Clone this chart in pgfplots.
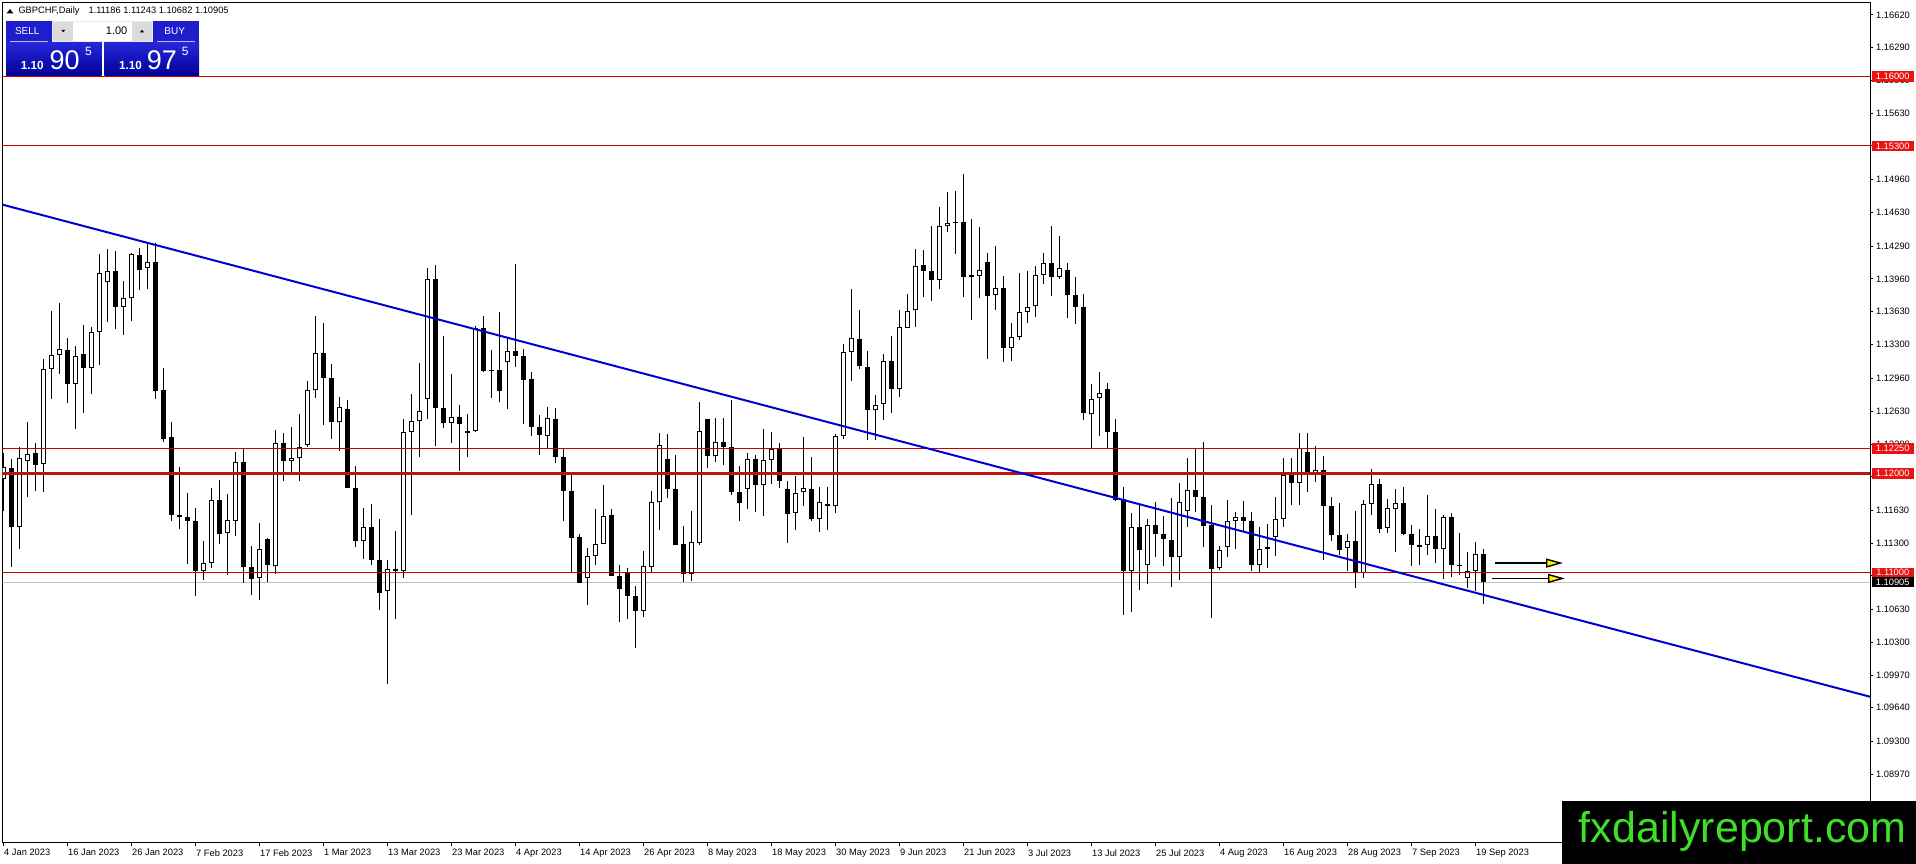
\documentclass[border=0pt]{standalone}
\usepackage{fontspec}
\setmainfont{Liberation Sans}
\usepackage{pgfplots}
\usepackage{pgfplotstable}
\pgfplotsset{compat=1.18}
\usetikzlibrary{arrows.meta}
\definecolor{lnred}{RGB}{205,0,0}
\definecolor{lnred2}{RGB}{190,20,20}
\definecolor{lblred}{RGB}{232,20,20}
\definecolor{trendblue}{RGB}{0,0,210}
\definecolor{bidgray}{RGB}{192,192,192}
\definecolor{btnblue}{RGB}{30,30,205}
\definecolor{boxtop}{RGB}{40,40,220}
\definecolor{boxbot}{RGB}{0,0,150}
\definecolor{wmgreen}{RGB}{62,222,42}
\newcommand\tlfont{\fontsize{9.3}{10}\selectfont}

\pgfplotstableread{
i O H L C
0 1.11941 1.12210 1.11622 1.12069
1 1.12059 1.12149 1.11061 1.11464
2 1.11464 1.12270 1.11242 1.12159
3 1.12129 1.12522 1.11766 1.12200
4 1.12210 1.12310 1.11823 1.12089
5 1.12099 1.13150 1.11817 1.13056
6 1.13056 1.13634 1.12754 1.13198
7 1.13198 1.13722 1.13006 1.13258
8 1.13248 1.13369 1.12714 1.12905
9 1.12905 1.13288 1.12452 1.13187
10 1.13208 1.13500 1.12613 1.13066
11 1.13066 1.13480 1.12804 1.13429
12 1.13429 1.14212 1.13097 1.14024
13 1.13933 1.14266 1.13530 1.14044
14 1.14044 1.14246 1.13460 1.13681
15 1.13681 1.13943 1.13399 1.13772
16 1.13772 1.14226 1.13540 1.14216
17 1.14206 1.14276 1.13853 1.14054
18 1.14075 1.14327 1.13863 1.14135
19 1.14135 1.14327 1.12754 1.12835
20 1.12845 1.13066 1.12321 1.12351
21 1.12371 1.12522 1.11524 1.11585
22 1.11585 1.12069 1.11444 1.11565
23 1.11565 1.11806 1.11091 1.11524
24 1.11524 1.11655 1.10765 1.11020
25 1.11020 1.11323 1.10930 1.11101
26 1.11101 1.11857 1.11051 1.11736
27 1.11736 1.11938 1.11292 1.11393
28 1.11403 1.11796 1.10980 1.11534
29 1.11524 1.12220 1.11370 1.12119
30 1.12119 1.12250 1.10899 1.11061
31 1.11057 1.11272 1.10772 1.10936
32 1.10946 1.11501 1.10721 1.11239
33 1.11339 1.11350 1.10906 1.11077
34 1.11067 1.12438 1.10987 1.12307
35 1.12307 1.12408 1.11924 1.12126
36 1.12126 1.12468 1.11995 1.12156
37 1.12156 1.12599 1.11924 1.12267
38 1.12287 1.12932 1.12267 1.12841
39 1.12841 1.13587 1.12761 1.13214
40 1.13214 1.13517 1.12489 1.12962
41 1.12962 1.13103 1.12347 1.12519
42 1.12519 1.12771 1.12226 1.12670
43 1.12650 1.12741 1.11854 1.11854
44 1.11854 1.12075 1.11259 1.11319
45 1.11319 1.11652 1.11138 1.11460
46 1.11460 1.11692 1.11077 1.11128
47 1.11128 1.11541 1.10624 1.10795
48 1.10815 1.11128 1.09878 1.11037
49 1.11037 1.11420 1.10533 1.11017
50 1.11017 1.12549 1.10946 1.12418
51 1.12418 1.12801 1.11578 1.12529
52 1.12529 1.13114 1.12166 1.12630
53 1.12751 1.14071 1.12549 1.13960
54 1.13960 1.14101 1.12277 1.12660
55 1.12660 1.13386 1.12458 1.12509
56 1.12509 1.13003 1.12307 1.12569
57 1.12569 1.12690 1.12025 1.12499
58 1.12408 1.12599 1.12166 1.12428
59 1.12428 1.13486 1.12418 1.13466
60 1.13466 1.13587 1.13023 1.13033
61 1.13043 1.13245 1.12761 1.13033
62 1.13046 1.13624 1.12717 1.12828
63 1.13124 1.13376 1.12650 1.13235
64 1.13235 1.14111 1.13073 1.13184
65 1.13184 1.13255 1.12499 1.12942
66 1.12952 1.13023 1.12378 1.12468
67 1.12468 1.12589 1.12186 1.12388
68 1.12378 1.12670 1.12257 1.12559
69 1.12549 1.12660 1.12106 1.12166
70 1.12166 1.12247 1.11521 1.11823
71 1.11823 1.12015 1.10997 1.11350
72 1.11360 1.11390 1.10896 1.10896
73 1.10946 1.11249 1.10674 1.11168
74 1.11168 1.11642 1.11077 1.11289
75 1.11289 1.11884 1.11289 1.11571
76 1.11581 1.11642 1.10966 1.10966
77 1.10966 1.11077 1.10503 1.10835
78 1.10997 1.11047 1.10533 1.10765
79 1.10765 1.10866 1.10241 1.10614
80 1.10614 1.11219 1.10553 1.11067
81 1.11057 1.11823 1.10997 1.11712
82 1.11712 1.12408 1.11430 1.12287
83 1.12146 1.12398 1.11753 1.11843
84 1.11843 1.12186 1.11279 1.11279
85 1.11289 1.11470 1.10906 1.10987
86 1.10987 1.11622 1.10916 1.11309
87 1.11299 1.12720 1.11279 1.12428
88 1.12549 1.12549 1.12055 1.12176
89 1.12176 1.12559 1.12116 1.12317
90 1.12317 1.12559 1.12085 1.12267
91 1.12267 1.12741 1.11783 1.11813
92 1.11813 1.12075 1.11521 1.11702
93 1.11847 1.12210 1.11645 1.12149
94 1.12149 1.12190 1.11615 1.11887
95 1.11887 1.12452 1.11575 1.12139
96 1.12139 1.12421 1.11897 1.12250
97 1.12250 1.12310 1.11857 1.11927
98 1.11847 1.11927 1.11302 1.11595
99 1.11605 1.11978 1.11434 1.11807
100 1.11817 1.12371 1.11676 1.11857
101 1.11847 1.12169 1.11524 1.11544
102 1.11544 1.11867 1.11413 1.11716
103 1.11696 1.11867 1.11434 1.11676
104 1.11676 1.12401 1.11605 1.12381
105 1.12381 1.13308 1.12351 1.13228
106 1.13228 1.13863 1.12936 1.13369
107 1.13359 1.13651 1.13056 1.13087
108 1.13077 1.13238 1.12341 1.12643
109 1.12643 1.12794 1.12341 1.12694
110 1.12704 1.13208 1.12542 1.13137
111 1.13137 1.13389 1.12613 1.12855
112 1.12855 1.13651 1.12774 1.13480
113 1.13470 1.13812 1.13470 1.13641
114 1.13651 1.14266 1.13480 1.14095
115 1.14105 1.14256 1.13782 1.14044
116 1.14044 1.14498 1.13742 1.13954
117 1.13954 1.14689 1.13863 1.14498
118 1.14498 1.14841 1.14437 1.14528
119 1.14538 1.14851 1.14216 1.14528
120 1.14538 1.15022 1.13782 1.13984
121 1.13984 1.14568 1.13550 1.14004
122 1.13994 1.14488 1.13772 1.14054
123 1.14135 1.14226 1.13157 1.13792
124 1.13799 1.14293 1.13648 1.13870
125 1.13870 1.13990 1.13124 1.13265
126 1.13265 1.13517 1.13134 1.13376
127 1.13376 1.14021 1.13345 1.13628
128 1.13628 1.14041 1.13517 1.13678
129 1.13688 1.14091 1.13577 1.14001
130 1.14001 1.14222 1.13910 1.14122
131 1.14122 1.14495 1.13789 1.13980
132 1.13980 1.14394 1.13960 1.14071
133 1.14051 1.14122 1.13567 1.13799
134 1.13799 1.13980 1.13507 1.13678
135 1.13678 1.13809 1.12539 1.12610
136 1.12599 1.12902 1.12257 1.12751
137 1.12761 1.13023 1.12378 1.12811
138 1.12851 1.12912 1.12247 1.12418
139 1.12418 1.12549 1.11722 1.11733
140 1.11743 1.11864 1.10573 1.11017
141 1.11017 1.11602 1.10604 1.11460
142 1.11460 1.11692 1.10825 1.11229
143 1.11077 1.11541 1.10886 1.11481
144 1.11481 1.11712 1.11158 1.11390
145 1.11390 1.11571 1.11067 1.11339
146 1.11329 1.11753 1.10856 1.11158
147 1.11158 1.11904 1.10926 1.11712
148 1.11622 1.12156 1.11460 1.11833
149 1.11833 1.12257 1.11612 1.11763
150 1.11763 1.12317 1.11259 1.11470
151 1.11481 1.11682 1.10543 1.11037
152 1.11047 1.11266 1.11030 1.11229
153 1.11259 1.11733 1.11158 1.11521
154 1.11521 1.11612 1.11239 1.11561
155 1.11565 1.11726 1.11423 1.11524
156 1.11524 1.11615 1.11020 1.11081
157 1.11081 1.11464 1.11010 1.11242
158 1.11242 1.11491 1.11047 1.11255
159 1.11363 1.11766 1.11168 1.11544
160 1.11544 1.12159 1.11464 1.11988
161 1.11988 1.12159 1.11686 1.11907
162 1.11907 1.12411 1.11686 1.12260
163 1.12220 1.12411 1.11817 1.11998
164 1.11998 1.12280 1.11917 1.12038
165 1.12038 1.12179 1.11131 1.11675
166 1.11675 1.11766 1.11323 1.11383
167 1.11383 1.11706 1.11182 1.11232
168 1.11252 1.11393 1.11020 1.11323
169 1.11323 1.11625 1.10849 1.11000
170 1.11000 1.11736 1.10950 1.11696
171 1.11696 1.12048 1.11585 1.11897
172 1.11897 1.11948 1.11403 1.11444
173 1.11454 1.11746 1.11403 1.11655
174 1.11645 1.11847 1.11212 1.11706
175 1.11706 1.11867 1.11383 1.11393
176 1.11393 1.11484 1.11071 1.11282
177 1.11282 1.11444 1.11081 1.11262
178 1.11282 1.11786 1.11182 1.11373
179 1.11373 1.11645 1.11101 1.11242
180 1.11242 1.11585 1.10940 1.11565
181 1.11565 1.11605 1.10960 1.11081
182 1.11081 1.11403 1.10980 1.11071
183 1.10950 1.11212 1.10849 1.11020
184 1.11020 1.11312 1.10819 1.11192
185 1.11186 1.11243 1.10682 1.10905
}\candles

\begin{document}
\begin{tikzpicture}
\fill[white] (0pt,0pt) rectangle (1916pt,864pt);
\begin{axis}[
  at={(2.7pt,21.3pt)}, anchor=south west,
  scale only axis, width=1867.3pt, height=840pt,
  xmin=-0.0375, xmax=233.375, ymin=1.082805, ymax=1.167439,
  axis line style={black, line width=1pt},
  xtick={0,8,...,184},
  xticklabels={4 Jan 2023,16 Jan 2023,26 Jan 2023,7 Feb 2023,17 Feb 2023,1 Mar 2023,13 Mar 2023,23 Mar 2023,4 Apr 2023,14 Apr 2023,26 Apr 2023,8 May 2023,18 May 2023,30 May 2023,9 Jun 2023,21 Jun 2023,3 Jul 2023,13 Jul 2023,25 Jul 2023,4 Aug 2023,16 Aug 2023,28 Aug 2023,7 Sep 2023,19 Sep 2023},
  ytick={1.16620,1.16290,1.15960,1.15630,1.15300,1.14960,1.14630,1.14290,1.13960,1.13630,1.13300,1.12960,1.12630,1.12290,1.11970,1.11630,1.11300,1.10970,1.10630,1.10300,1.09970,1.09640,1.09300,1.08970},
  yticklabels={1.16620,1.16290,1.15960,1.15630,1.15300,1.14960,1.14630,1.14290,1.13960,1.13630,1.13300,1.12960,1.12630,1.12290,1.11970,1.11630,1.11300,1.10970,1.10630,1.10300,1.09970,1.09640,1.09300,1.08970},
  xtick pos=lower, ytick pos=upper, yticklabel pos=upper,
  tick align=outside, major tick length=3pt,
  tick style={black, line width=1pt},
  x tick label style={anchor=north west, inner sep=0pt, xshift=1pt, yshift=-3.6pt, font=\tlfont},
  y tick label style={anchor=west, inner sep=0pt, xshift=3pt, font=\tlfont},
  /pgf/number format/assume math mode=true,
  clip=true,
]
% bid line
\addplot[bidgray, line width=1pt, forget plot] coordinates {(-1,1.10905) (240,1.10905)};
% wicks
\addplot[draw=none, forget plot,
  error bars/.cd, y dir=plus, y explicit, error mark=none,
  error bar style={draw=black, line width=1pt}]
  table[x=i, y=L, y error expr=\thisrow{H}-\thisrow{L}] {\candles};
% bearish bodies
\addplot[draw=none, forget plot,
  restrict expr to domain={\thisrow{O}-\thisrow{C}}{0:1},
  error bars/.cd, y dir=plus, y explicit, error mark=none,
  error bar style={draw=black, line width=5pt}]
  table[x=i, y=C, y error expr=\thisrow{O}-\thisrow{C}] {\candles};
% bullish bodies (outline)
\addplot[draw=none, forget plot,
  restrict expr to domain={\thisrow{C}-\thisrow{O}}{0:1},
  error bars/.cd, y dir=plus, y explicit, error mark=none,
  error bar style={draw=black, line width=5pt}]
  table[x=i, y=O, y error expr=\thisrow{C}-\thisrow{O}] {\candles};
% bullish bodies (white inside)
\addplot[draw=none, forget plot,
  restrict expr to domain={\thisrow{C}-\thisrow{O}}{0.00021:1},
  error bars/.cd, y dir=plus, y explicit, error mark=none,
  error bar style={draw=white, line width=3pt, shorten <=1pt, shorten >=1pt}]
  table[x=i, y=O, y error expr=\thisrow{C}-\thisrow{O}] {\candles};
% horizontal levels
\addplot[lnred, line width=1pt, forget plot] coordinates {(-1,1.16000) (240,1.16000)};
\addplot[lnred, line width=1pt, forget plot] coordinates {(-1,1.15300) (240,1.15300)};
\addplot[lnred, line width=1pt, forget plot] coordinates {(-1,1.12250) (240,1.12250)};
\addplot[lnred2, line width=2.5pt, forget plot] coordinates {(-1,1.12000) (240,1.12000)};
\addplot[lnred, line width=1pt, forget plot] coordinates {(-1,1.11000) (240,1.11000)};
% trend line
\addplot[trendblue, line width=2pt, forget plot] coordinates {(-1,1.14729) (234,1.09738)};
% arrows
\addplot[black, line width=1.4pt, -{Triangle[length=17pt,width=9pt,fill=yellow]}, forget plot] coordinates {(186.5,1.11098) (195.0,1.11098)};
\addplot[black, line width=1.4pt, -{Triangle[length=17pt,width=9pt,fill=yellow]}, forget plot] coordinates {(186.1,1.10943) (195.25,1.10943)};
\coordinate (p1) at (axis cs:233.375,1.16000);
\coordinate (p2) at (axis cs:233.375,1.15300);
\coordinate (p3) at (axis cs:233.375,1.12250);
\coordinate (p4) at (axis cs:233.375,1.12000);
\coordinate (p5) at (axis cs:233.375,1.11000);
\coordinate (p6) at (axis cs:233.375,1.10905);
\end{axis}
% price labels on the scale
\tikzset{plab/.style={anchor=west, inner sep=0pt, minimum width=41.6pt, minimum height=10.5pt, text=white, font=\tlfont, xshift=1.7pt}}
\node[plab, fill=lblred] at (p1) {1.16000};
\node[plab, fill=lblred] at (p2) {1.15300};
\node[plab, fill=lblred] at (p3) {1.12250};
\node[plab, fill=lblred] at (p4) {1.12000};
\node[plab, fill=lblred] at (p5) {1.11000};
\node[plab, fill=black] at (p6) {1.10905};
% header and trade panel (pixel frame, y downwards)
\begin{scope}[shift={(0pt,864pt)}, x=1pt, y=-1pt]
  \fill[black] (6.7,13.3) -- (10,9) -- (13.3,13.3) -- cycle;
  \node[anchor=base west, inner sep=0pt, font=\tlfont] at (18.3,14) {GBPCHF,Daily};
  \node[anchor=base west, inner sep=0pt, font=\tlfont] at (88.3,14) {1.11186 1.11243 1.10682 1.10905};
  % price boxes
  \shade[top color=boxtop, bottom color=boxbot] (6,41.7) rectangle (101.7,75.7);
  \shade[top color=boxtop, bottom color=boxbot] (104.3,41.7) rectangle (199,75.7);
  % label boxes
  \fill[btnblue] (6,20.7) rectangle (51.7,41.7);
  \fill[btnblue] (153.3,20.7) rectangle (199,41.7);
  \draw[white!70!btnblue, line width=0.8pt] (10,41.5) -- (47.7,41.5);
  \draw[white!70!btnblue, line width=0.8pt] (157.3,41.5) -- (195,41.5);
  \node[text=white, inner sep=0pt, font=\fontsize{10}{10}\selectfont] at (27.3,31.2) {SELL};
  \node[text=white, inner sep=0pt, font=\fontsize{10}{10}\selectfont] at (174.7,31.2) {BUY};
  % spinner
  \fill[white!92!black] (51.7,20.7) rectangle (153.3,41.7);
  \fill[white] (73.3,21.7) rectangle (131.7,40.7);
  \fill[white!86!black] (53.3,21.7) rectangle (73.3,40.7);
  \fill[white!86!black] (131.7,21.7) rectangle (152.3,40.7);
  \fill[black] (61.3,29.8) -- (65.3,29.8) -- (63.3,32.3) -- cycle;
  \fill[black] (140,32.3) -- (144,32.3) -- (142,29.8) -- cycle;
  \node[anchor=east, inner sep=0pt, font=\fontsize{11}{11}\selectfont] at (127.5,30.8) {1.00};
  % prices
  \node[anchor=base west, inner sep=0pt, text=white, font=\fontsize{11.7}{12}\selectfont\bfseries] at (20.7,69.3) {1.10};
  \node[anchor=base west, inner sep=0pt, text=white, font=\fontsize{27}{27}\selectfont] at (49.3,70) {90};
  \node[anchor=north west, inner sep=0pt, text=white, font=\fontsize{12}{12}\selectfont] at (85,46.7) {5};
  \node[anchor=base west, inner sep=0pt, text=white, font=\fontsize{11.7}{12}\selectfont\bfseries] at (119,69.3) {1.10};
  \node[anchor=base west, inner sep=0pt, text=white, font=\fontsize{27}{27}\selectfont] at (146.7,70) {97};
  \node[anchor=north west, inner sep=0pt, text=white, font=\fontsize{12}{12}\selectfont] at (181.7,46.7) {5};
  % watermark
  \fill[black] (1561.7,801) rectangle (1916,864);
  \node[anchor=base west, inner sep=0pt, text=wmgreen, font=\fontsize{43}{43}\selectfont] at (1578.7,842.7) {fxdailyreport.com};
\end{scope}
\end{tikzpicture}
\end{document}
